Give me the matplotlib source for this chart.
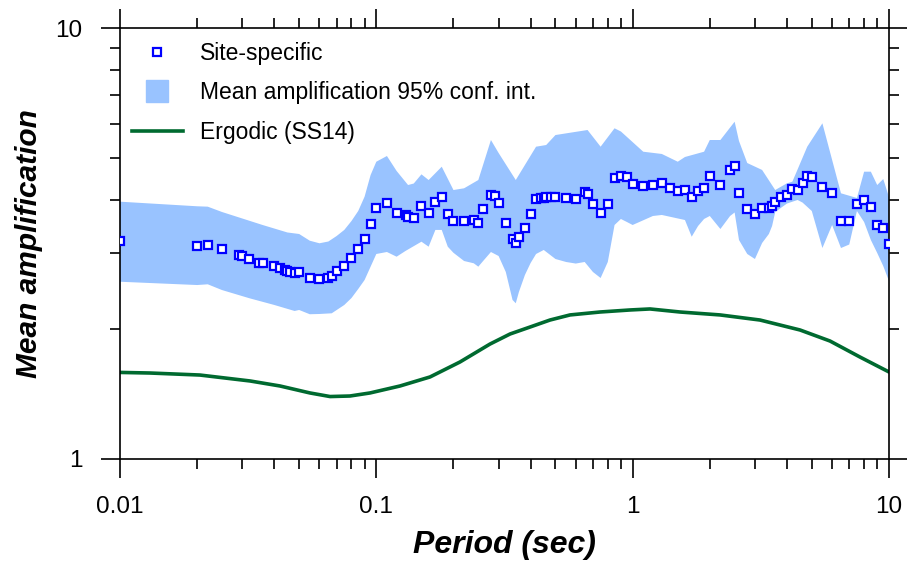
import matplotlib
matplotlib.use("Agg")
import matplotlib.pyplot as plt
from matplotlib.lines import Line2D
import numpy as np

plt.rcParams['font.family'] = ['Liberation Sans', 'DejaVu Sans']

# Site-specific mean amplification (squares)
site_period = [0.01, 0.02, 0.022, 0.025, 0.029, 0.03, 0.032, 0.035, 0.036, 0.04,
               0.042, 0.044, 0.045, 0.046, 0.048, 0.05, 0.055, 0.06, 0.065, 0.067,
               0.07, 0.075, 0.08, 0.085, 0.09, 0.095, 0.1, 0.11, 0.12, 0.13,
               0.133, 0.14, 0.15, 0.16, 0.17, 0.18, 0.19, 0.2, 0.22, 0.24,
               0.25, 0.26, 0.28, 0.29, 0.3, 0.32, 0.34, 0.35, 0.36, 0.38,
               0.4, 0.42, 0.44, 0.45, 0.46, 0.48, 0.5, 0.55, 0.6, 0.65,
               0.667, 0.7, 0.75, 0.8, 0.85, 0.9, 0.95, 1.0, 1.1, 1.2,
               1.3, 1.4, 1.5, 1.6, 1.7, 1.8, 1.9, 2.0, 2.2, 2.4,
               2.5, 2.6, 2.8, 3.0, 3.2, 3.4, 3.5, 3.6, 3.8, 4.0,
               4.2, 4.4, 4.6, 4.8, 5.0, 5.5, 6.0, 6.5, 7.0, 7.5,
               8.0, 8.5, 9.0, 9.5, 10.0]
site_amp = [3.205, 3.121, 3.132, 3.075, 2.978, 2.958, 2.911, 2.854, 2.854, 2.804,
            2.775, 2.749, 2.731, 2.716, 2.706, 2.716, 2.626, 2.616, 2.626, 2.658,
            2.723, 2.804, 2.932, 3.065, 3.236, 3.510, 3.823, 3.922, 3.726, 3.679,
            3.647, 3.630, 3.858, 3.717, 3.947, 4.048, 3.709, 3.561, 3.561, 3.592,
            3.528, 3.808, 4.098, 4.083, 3.920, 3.522, 3.239, 3.166, 3.269, 3.430,
            3.709, 4.005, 4.040, 4.040, 4.045, 4.048, 4.061, 4.040, 4.018, 4.153,
            4.130, 3.905, 3.719, 3.899, 4.480, 4.535, 4.504, 4.338, 4.306, 4.329,
            4.376, 4.261, 4.193, 4.208, 4.061, 4.193, 4.247, 4.535, 4.322, 4.676,
            4.777, 4.135, 3.802, 3.702, 3.829, 3.817, 3.864, 3.947, 4.048, 4.098,
            4.231, 4.208, 4.368, 4.535, 4.519, 4.283, 4.148, 3.573, 3.573, 3.899,
            3.990, 3.843, 3.497, 3.430, 3.154]

# 95% confidence interval of mean amplification
ci_up_period = [0.01, 0.02, 0.022, 0.025, 0.036, 0.045, 0.05, 0.055, 0.06, 0.065,
                0.07, 0.075, 0.08, 0.085, 0.09, 0.095, 0.1, 0.11, 0.12, 0.133,
                0.14, 0.15, 0.16, 0.18, 0.2, 0.22, 0.25, 0.28, 0.3, 0.35,
                0.42, 0.46, 0.5, 0.667, 0.75, 0.85, 0.9, 1.1, 1.3, 1.5,
                1.6, 1.9, 2.0, 2.2, 2.5, 2.6, 2.8, 3.2, 3.6, 4.0,
                4.2, 4.8, 5.5, 6.5, 7.5, 8.0, 8.5, 9.0, 9.5, 10.0]
ci_up = [3.954, 3.858, 3.850, 3.742, 3.491, 3.354, 3.327, 3.210, 3.166, 3.196,
         3.291, 3.400, 3.566, 3.762, 4.061, 4.559, 4.895, 5.047, 4.659, 4.322,
         4.357, 4.576, 4.439, 4.766, 4.208, 4.247, 4.439, 5.497, 5.129, 4.439,
         5.304, 5.352, 5.645, 5.799, 5.304, 5.852, 5.753, 5.164, 5.102, 4.895,
         5.020, 5.164, 5.497, 5.497, 6.062, 5.468, 4.861, 4.684, 4.208, 4.362,
         4.400, 5.304, 6.010, 4.135, 4.033, 4.641, 4.641, 4.322, 4.463, 4.054]
ci_lo_period = [0.01, 0.02, 0.022, 0.025, 0.032, 0.04, 0.048, 0.05, 0.055, 0.06,
                0.067, 0.075, 0.08, 0.085, 0.09, 0.1, 0.11, 0.12, 0.13, 0.15,
                0.16, 0.17, 0.18, 0.19, 0.2, 0.22, 0.24, 0.25, 0.26, 0.28,
                0.3, 0.32, 0.34, 0.35, 0.36, 0.38, 0.4, 0.42, 0.45, 0.5,
                0.55, 0.6, 0.65, 0.7, 0.75, 0.8, 0.85, 0.9, 0.95, 1.0,
                1.2, 1.3, 1.6, 1.7, 1.8, 1.9, 2.0, 2.2, 2.4, 2.5,
                2.6, 2.8, 3.0, 3.2, 3.4, 3.5, 3.6, 4.0, 4.4, 4.6,
                5.0, 5.5, 6.0, 6.5, 7.0, 7.5, 8.0, 8.5, 9.0, 9.5, 10.0]
ci_lo = [2.578, 2.533, 2.543, 2.466, 2.360, 2.277, 2.205, 2.217, 2.167, 2.170,
         2.178, 2.277, 2.363, 2.480, 2.602, 2.990, 3.022, 2.947, 3.039, 3.193,
         3.109, 3.400, 3.400, 3.109, 3.009, 2.880, 2.845, 2.794, 2.872, 3.022,
         2.958, 2.716, 2.339, 2.298, 2.441, 2.673, 2.850, 2.990, 3.055, 2.911,
         2.865, 2.841, 2.865, 2.716, 2.630, 2.865, 3.491, 3.605, 3.547, 3.491,
         3.663, 3.683, 3.585, 3.279, 3.472, 3.605, 3.663, 3.417, 3.663, 3.732,
         3.222, 2.990, 2.911, 3.171, 3.327, 3.472, 3.742, 3.915, 3.990, 3.936,
         3.762, 3.087, 3.491, 3.087, 3.145, 3.762, 3.547, 3.222, 3.006, 2.804, 2.588]

# Ergodic model (SS14)
erg_period = [0.01, 0.0131, 0.0205, 0.0322, 0.0421, 0.0551, 0.066, 0.0789, 0.0945, 0.1237,
              0.162, 0.212, 0.2777, 0.3325, 0.398, 0.476, 0.570, 0.746, 0.977, 1.169,
              1.531, 2.193, 3.14, 4.50, 5.89, 7.71, 10.0]
erg_amp = [1.588, 1.583, 1.566, 1.517, 1.477, 1.423, 1.396, 1.400, 1.423, 1.477,
           1.550, 1.679, 1.848, 1.950, 2.024, 2.101, 2.159, 2.193, 2.217, 2.229,
           2.193, 2.159, 2.101, 1.992, 1.878, 1.724, 1.592]

band_color = '#99C3FF'
green = '#006A30'

fig = plt.figure(figsize=(9.07, 5.67), dpi=100)
ax = fig.add_axes([0.1323, 0.1905, 0.8478, 0.7601])

poly_x = np.concatenate([ci_up_period, ci_lo_period[::-1]])
poly_y = np.concatenate([ci_up, ci_lo[::-1]])
ax.fill(poly_x, poly_y, color=band_color, lw=0, zorder=1)
ax.plot(erg_period, erg_amp, color=green, lw=2.6, zorder=2,
        solid_capstyle='round', solid_joinstyle='round')
ax.plot(site_period, site_amp, ls='none', marker='s', ms=5.4, mfc='white',
        mec='#0000FF', mew=1.6, zorder=3)

ax.set_xscale('log')
ax.set_yscale('log')
ax.set_xlim(0.01, 10)
ax.set_ylim(1, 10)

ax.set_xticks([0.01, 0.1, 1, 10])
ax.set_xticklabels(['0.01', '0.1', '1', '10'])
ax.set_yticks([1, 10])
ax.set_yticklabels(['1', '10'])

for sp in ax.spines.values():
    sp.set_linewidth(1.2)
ax.tick_params(which='major', direction='out', length=14, width=1.2,
               labelsize=17.5, pad=13, top=True, right=True)
ax.tick_params(which='minor', direction='out', length=7, width=1.2,
               top=True, right=True, labelleft=False, labelbottom=False)

ax.set_xlabel('Period (sec)', fontsize=23, fontweight='bold', style='italic', labelpad=8)
ax.set_ylabel('Mean amplification', fontsize=21.5, fontweight='bold', style='italic', labelpad=9)

handles = [
    Line2D([], [], ls='none', marker='s', ms=5.4, mfc='white', mec='#0000FF', mew=1.6),
    Line2D([], [], ls='none', marker='s', ms=16, mfc=band_color, mec=band_color),
    Line2D([], [], color=green, lw=2.6),
]
labels = ['Site-specific', 'Mean amplification 95% conf. int.', 'Ergodic (SS14)']
ax.legend(handles, labels, loc='upper left', frameon=False, fontsize=16.5,
          handlelength=2.2, handletextpad=0.75, labelspacing=0.72,
          borderaxespad=0.3, bbox_to_anchor=(-0.005, 1.005))

fig.savefig('out.png', dpi=100)
